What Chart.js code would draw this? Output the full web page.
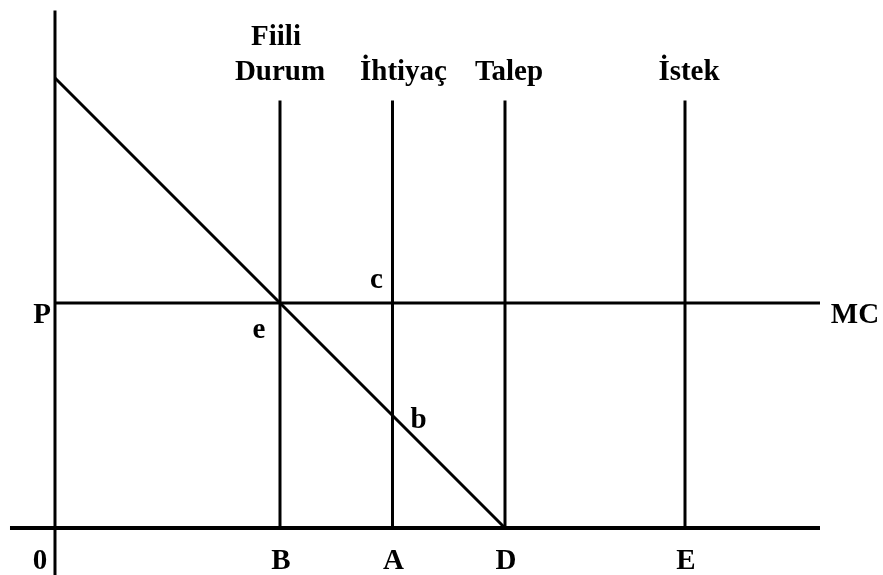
<!DOCTYPE html>
<html>
<head>
<meta charset="utf-8">
<script src="https://cdn.jsdelivr.net/npm/chart.js@4"></script>
<style>
  html, body { margin: 0; padding: 0; background: #fff; }
  #wrap { width: 883px; height: 575px; position: relative; }
</style>
</head>
<body>
<div id="wrap"><canvas id="myChart"></canvas></div>
<script>
// Valores del gráfico (Q en el eje x, P en el eje y)
const qNames = ['B', 'A', 'D', 'E'];
const qValues = [5, 7.5, 10, 14];
const topNames = [['Fiili', 'Durum'], ['İhtiyaç'], ['Talep'], ['İstek']];
const demandQ = [0, 10];
const demandP = [10, 0];
const mcPrice = 5;
const mcEnd = 17;
const lineTop = 9.5;
const pointNames = ['e', 'c', 'b'];
const pointQ = [5, 7.5, 7.5];
const pointP = [5, 5, 2.5];

const negro = '#000';

function seg(x1, y1, x2, y2, w) {
    return {
        data: [{ x: x1, y: y1 }, { x: x2, y: y2 }],
        borderColor: negro,
        borderWidth: w,
        showLine: true,
        pointRadius: 0,
        fill: false
    };
}

const datasets = [
    seg(0, -1.1, 0, 11.5, 3),          // eje P
    seg(-1, 0, mcEnd, 0, 4),           // eje Q
    seg(demandQ[0], demandP[0], demandQ[1], demandP[1], 3),
    seg(0, mcPrice, mcEnd, mcPrice, 3)
];
qValues.forEach(q => datasets.push(seg(q, 0, q, lineTop, 3)));

// Etiquetas de texto
const etiquetas = {
    id: 'etiquetas',
    afterDatasetsDraw(chart) {
        const { ctx, scales: { x, y } } = chart;
        const px = v => x.getPixelForValue(v);
        const py = v => y.getPixelForValue(v);
        ctx.save();
        ctx.fillStyle = negro;
        ctx.font = 'bold 29px "Liberation Serif", "Times New Roman", serif';
        ctx.textAlign = 'center';
        ctx.textBaseline = 'alphabetic';

        const topDx = [0, 11, 4, 4];
        qValues.forEach((q, i) => {
            const lines = topNames[i];
            lines.forEach((t, j) => {
                const base = py(lineTop) - 20 - 35 * (lines.length - 1 - j);
                ctx.fillText(t, px(q) + topDx[i] - (lines.length > 1 && j === 0 ? 4 : 0), base);
            });
            ctx.fillText(qNames[i], px(q) + 1, py(0) + 41);
        });
        ctx.fillText('0', px(0) - 15, py(0) + 41);
        ctx.fillText('P', px(0) - 13, py(mcPrice) + 20);
        ctx.fillText('MC', px(mcEnd) + 35, py(mcPrice) + 20);

        const dx = [-21, -16, 26];
        const dy = [35, -15, 12];
        pointNames.forEach((t, i) => {
            ctx.fillText(t, px(pointQ[i]) + dx[i], py(pointP[i]) + dy[i]);
        });
        ctx.restore();
    }
};

const ctx = document.getElementById('myChart').getContext('2d');
const myChart = new Chart(ctx, {
    type: 'scatter',
    data: { datasets },
    options: {
        responsive: true,
        maintainAspectRatio: false,
        animation: false,
        layout: { padding: 0 },
        plugins: { legend: { display: false }, tooltip: { enabled: false } },
        scales: {
            x: { type: 'linear', min: -1.222, max: 18.4, display: false },
            y: { type: 'linear', min: -1.044, max: 11.733, display: false }
        }
    },
    plugins: [etiquetas]
});
</script>
</body>
</html>
